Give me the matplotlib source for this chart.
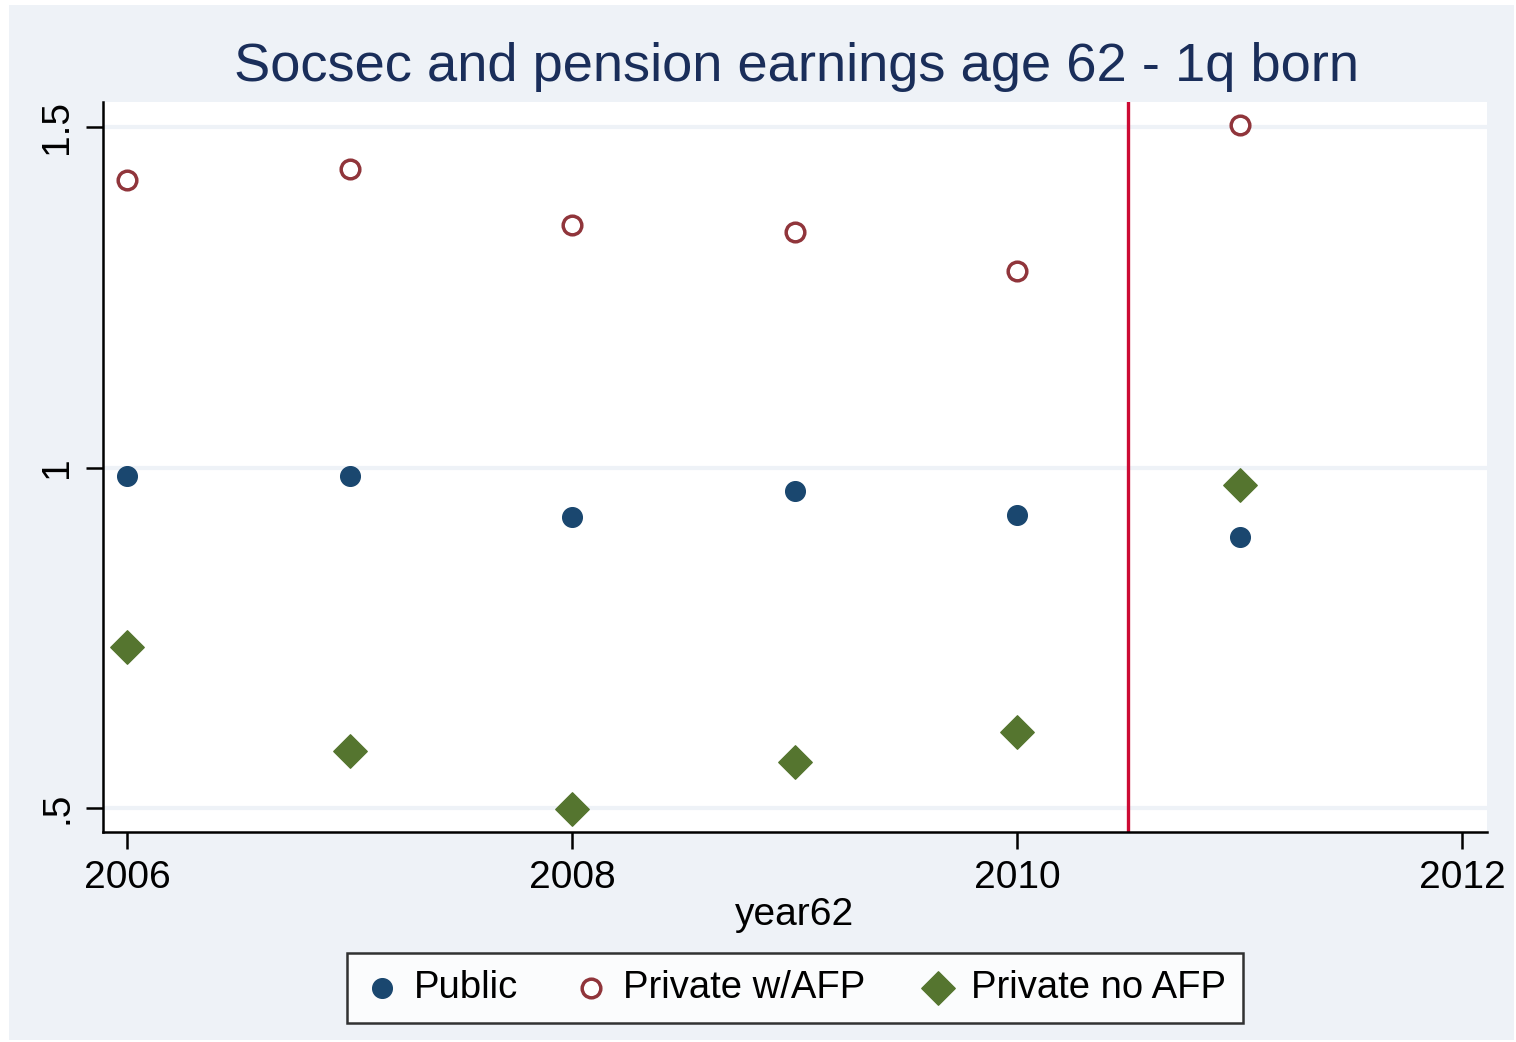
import matplotlib
matplotlib.use("Agg")
import matplotlib.pyplot as plt
from matplotlib.patches import Rectangle

years = [2006, 2007, 2008, 2009, 2010, 2011]
public = [0.987, 0.987, 0.928, 0.966, 0.931, 0.898]
private_afp = [1.422, 1.438, 1.356, 1.346, 1.289, 1.503]
private_noafp = [0.736, 0.584, 0.498, 0.568, 0.611, 0.975]
cutoff = 2010.5
xticks = [2006, 2008, 2010, 2012]
yticks = [0.5, 1.0, 1.5]
yticklabels = [".5", "1", "1.5"]

plt.rcParams['font.family'] = ['Liberation Sans', 'DejaVu Sans']

W, H = 1516, 1042
fig = plt.figure(figsize=(W/100, H/100), dpi=100, facecolor='white')
bg = '#eef2f7'
fig.patches.append(Rectangle((9/W, 1 - 1040/H), (1514-9)/W, (1040-5)/H,
                             transform=fig.transFigure, facecolor=bg,
                             edgecolor='none', zorder=-10))

ax = fig.add_axes([103/W, 1 - 832/H, (1487-103)/W, (832-102)/H])
ax.set_facecolor('white')
ax.set_xlim(2005.892, 2012.112)
ax.set_ylim(0.4648, 1.5367)

for y in yticks:
    ax.axhline(y, color='#eef2f7', lw=3, zorder=0)

ax.axvline(cutoff, color='#cc0a33', lw=2.4, zorder=1)

ax.scatter(years, public, s=200, marker='o', color='#1a476f', zorder=3, label='Public')
ax.scatter(years, private_afp, s=180, marker='o', facecolors='white',
           edgecolors='#90353b', linewidths=2.5, zorder=3, label='Private w/AFP')
ax.scatter(years, private_noafp, s=290, marker='D', color='#55752f', zorder=3,
           label='Private no AFP')

for side in ['top', 'right']:
    ax.spines[side].set_visible(False)
ax.spines['left'].set_linewidth(1.8)
ax.spines['bottom'].set_linewidth(1.8)

ax.set_xticks(xticks)
ax.set_xticklabels([str(x) for x in xticks])
ax.set_yticks(yticks)
ax.set_yticklabels(yticklabels, rotation=90, va='center')
ax.tick_params(axis='both', direction='out', length=12, width=1.8,
               labelsize=28, colors='black', pad=8)

ax.set_xlabel('year62', fontsize=28, labelpad=1)

fig.text(796/W, 1 - 67/H, 'Socsec and pension earnings age 62 - 1q born',
         ha='center', va='center', fontsize=39.2, color='#1a2e5a')

leg = fig.legend(loc='center', bbox_to_anchor=(795/W, 1 - 988/H), ncol=3,
                 frameon=True, fontsize=27.5, handletextpad=0.4, columnspacing=1.45,
                 borderpad=0.45, handlelength=0.9, markerscale=1.0)
leg.get_frame().set_edgecolor('black')
leg.get_frame().set_linewidth(1.8)
leg.get_frame().set_boxstyle('square', pad=0)
leg.get_frame().set_facecolor('white')

fig.savefig('out.png', dpi=100, facecolor='white')
